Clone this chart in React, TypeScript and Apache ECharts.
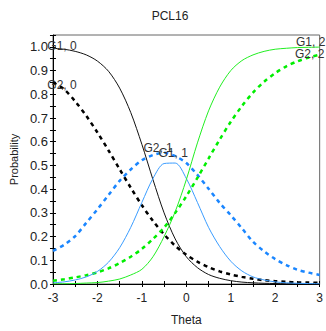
import React, { useEffect, useRef } from "react";
import * as echarts from "echarts";

const theta = [-3, -2.75, -2.5, -2.25, -2, -1.75, -1.5, -1.25, -1, -0.75, -0.5, -0.25, 0, 0.25, 0.5, 0.75, 1, 1.25, 1.5, 1.75, 2, 2.25, 2.5, 2.75, 3];

const g1_0 = [0.994, 0.99, 0.981, 0.966, 0.94, 0.897, 0.826, 0.723, 0.589, 0.44, 0.3, 0.19, 0.115, 0.069, 0.04, 0.024, 0.014, 0.008, 0.005, 0.003, 0.002, 0.001, 0.001, 0.0, 0.0];
const g1_1 = [0.005, 0.009, 0.017, 0.03, 0.053, 0.092, 0.153, 0.239, 0.344, 0.445, 0.508, 0.51, 0.445, 0.344, 0.239, 0.158, 0.096, 0.055, 0.03, 0.017, 0.009, 0.005, 0.003, 0.002, 0.001];
const g1_2 = [0.001, 0.001, 0.002, 0.004, 0.006, 0.012, 0.021, 0.038, 0.062, 0.115, 0.2, 0.305, 0.44, 0.595, 0.73, 0.83, 0.9, 0.942, 0.966, 0.981, 0.99, 0.994, 0.997, 0.998, 0.999];

const g2_0 = [0.85, 0.821, 0.77, 0.709, 0.639, 0.563, 0.484, 0.406, 0.332, 0.266, 0.209, 0.161, 0.123, 0.094, 0.071, 0.053, 0.04, 0.03, 0.022, 0.016, 0.012, 0.009, 0.007, 0.006, 0.005];
const g2_1 = [0.14, 0.165, 0.202, 0.258, 0.315, 0.375, 0.435, 0.483, 0.522, 0.544, 0.553, 0.539, 0.51, 0.46, 0.402, 0.342, 0.29, 0.235, 0.178, 0.138, 0.105, 0.08, 0.06, 0.048, 0.038];
const g2_2 = [0.014, 0.02, 0.028, 0.037, 0.049, 0.066, 0.088, 0.115, 0.148, 0.19, 0.238, 0.3, 0.37, 0.448, 0.529, 0.609, 0.684, 0.75, 0.807, 0.853, 0.889, 0.918, 0.939, 0.955, 0.967];

const title = "PCL16";
const xName = "Theta";
const yName = "Probability";

const FONT = "'Liberation Sans', Arial, sans-serif";

function pairs(ys: number[]) {
  return theta.map((t, i) => [t, ys[i]]);
}

function argMax(ys: number[]) {
  let m = 0;
  ys.forEach((v, i) => {
    if (v > ys[m]) m = i;
  });
  return m;
}

function mark(text: string, ys: number[], idx: number, offset: number[]) {
  return {
    symbol: "circle",
    symbolSize: 0,
    silent: true,
    data: [{ coord: [theta[idx], ys[idx]] }],
    label: {
      show: true,
      position: "inside",
      formatter: text,
      offset,
      color: "#333",
      fontSize: 12,
      fontFamily: FONT,
    },
  };
}

export default function App() {
  const ref = useRef<HTMLDivElement>(null);
  useEffect(() => {
    if (!ref.current) return;
    const chart = echarts.init(ref.current, undefined, { renderer: "svg" });
    const solid = (color: string) => ({ color, width: 1, type: "solid" as const });
    const dashed = (color: string) => ({ color, width: 2.5, type: [4, 4] as any });
    const common = {
      type: "line",
      showSymbol: false,
      symbol: "none",
      smooth: 0.3,
      xAxisIndex: 0,
      yAxisIndex: 0,
    };
    const i11 = argMax(g1_1);
    const i21 = argMax(g2_1);
    const last = theta.length - 1;
    chart.setOption({
      animation: false,
      textStyle: { fontFamily: FONT },
      graphic: [
        {
          type: "text",
          x: 170,
          y: 16,
          style: {
            text: title,
            align: "center",
            verticalAlign: "middle",
            fontSize: 12,
            fontFamily: FONT,
            fill: "#222",
          },
        },
      ],
      grid: {
        left: 52,
        right: 6,
        top: 35,
        bottom: 46,
        show: true,
        borderColor: "#666",
        borderWidth: 1,
        backgroundColor: "transparent",
      },
      xAxis: [
        {
          type: "value",
          min: -3,
          max: 3,
          interval: 0.5,
          position: "bottom",
          name: xName,
          nameLocation: "middle",
          nameGap: 30,
          nameTextStyle: { color: "#222", fontSize: 12, fontFamily: FONT },
          axisLine: { show: true, onZero: false, lineStyle: { color: "#000", width: 1 } },
          axisTick: { show: true, inside: false, length: 3, lineStyle: { color: "#000" } },
          axisLabel: {
            color: "#222",
            fontSize: 12,
            fontFamily: FONT,
            margin: 8,
            formatter: (v: number) => (Math.abs(v - Math.round(v)) < 1e-9 ? String(Math.round(v)) : ""),
          },
          splitLine: { show: false },
        },
        {
          type: "value",
          min: -3,
          max: 3,
          interval: 0.5,
          position: "bottom",
          offset: 0,
          axisLine: { show: false, onZero: false },
          axisTick: { show: true, inside: true, length: 3, lineStyle: { color: "#000" } },
          axisLabel: { show: false },
          splitLine: { show: false },
        },
      ],
      yAxis: [
        {
          type: "value",
          min: 0,
          max: 1.05,
          interval: 0.05,
          position: "left",
          name: yName,
          nameLocation: "middle",
          nameGap: 29,
          nameTextStyle: { color: "#222", fontSize: 11, fontFamily: FONT },
          axisLine: { show: true, onZero: false, lineStyle: { color: "#000", width: 1 } },
          axisTick: { show: true, inside: false, length: 3, lineStyle: { color: "#000" } },
          axisLabel: {
            color: "#222",
            fontSize: 13,
            fontFamily: FONT,
            margin: 5,
            formatter: (v: number) => (Math.round(v * 100) % 10 === 0 ? v.toFixed(1) : ""),
          },
          splitLine: { show: false },
        },
        {
          type: "value",
          min: 0,
          max: 1.05,
          interval: 0.05,
          position: "left",
          offset: 0,
          axisLine: { show: false, onZero: false },
          axisTick: { show: true, inside: true, length: 3, lineStyle: { color: "#000" } },
          axisLabel: { show: false },
          splitLine: { show: false },
        },
      ],
      series: [
        { ...common, name: "G1, 0", data: pairs(g1_0), lineStyle: solid("#111"), z: 3, markPoint: mark("G1, 0", g1_0, 0, [9, -2]) },
        { ...common, name: "G1, 1", data: pairs(g1_1), lineStyle: solid("#3a9cff"), z: 3, markPoint: mark("G1, 1", g1_1, i11, [-2, -10]) },
        { ...common, name: "G1, 2", data: pairs(g1_2), lineStyle: solid("#22ee22"), z: 3, markPoint: mark("G1, 2", g1_2, last, [-9, -5]) },
        { ...common, name: "G2, 0", data: pairs(g2_0), lineStyle: dashed("#000"), z: 2, markPoint: mark("G2, 0", g2_0, 0, [9, 3]) },
        { ...common, name: "G2, 1", data: pairs(g2_1), lineStyle: dashed("#1a86ff"), z: 2, markPoint: mark("G2, 1", g2_1, i21, [-6, -5]) },
        { ...common, name: "G2, 2", data: pairs(g2_2), lineStyle: dashed("#00ee00"), z: 2, markPoint: mark("G2, 2", g2_2, last, [-10, -1]) },
      ],
    });
    return () => chart.dispose();
  }, []);
  return (
    <div
      ref={ref}
      style={{ position: "fixed", left: 0, top: 0, width: 326, height: 331, background: "#fff" }}
    />
  );
}
